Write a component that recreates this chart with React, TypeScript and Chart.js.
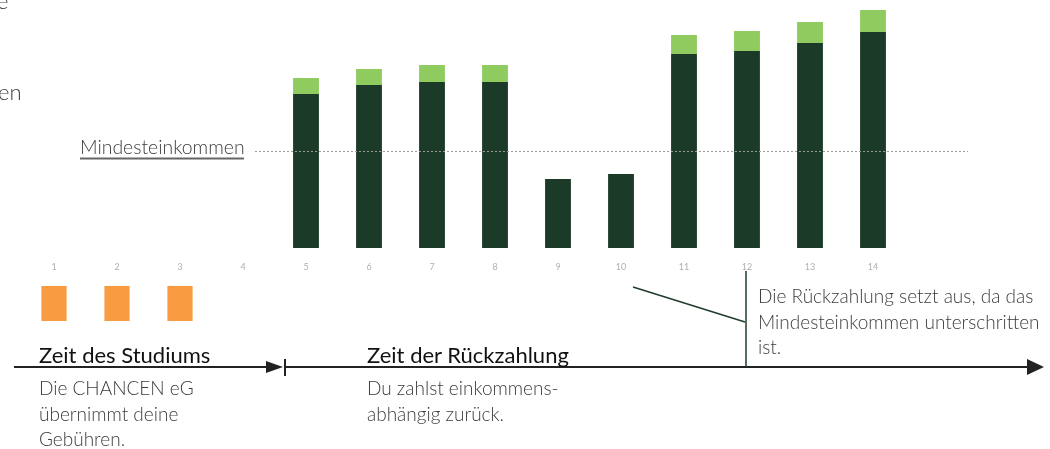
import React, { useEffect, useRef } from "react";
import { Chart, registerables } from "chart.js";

Chart.register(...registerables);

// Years (x categories)
const YEARS = ["1", "2", "3", "4", "5", "6", "7", "8", "9", "10", "11", "12", "13", "14"];
// Income remaining after repayment (dark green)
const INCOME_NET = [null, null, null, null, 154, 163, 166, 166, 69, 74, 194, 197, 205, 216];
// Income-based repayment (light green)
const REPAYMENT = [null, null, null, null, 16, 16, 17, 17, null, null, 19, 20, 21, 22];
// Fees paid by CHANCEN eG during studies (orange)
const FEES = [36, 36, 36, null, null, null, null, null, null, null, null, null, null, null];
// Minimum income threshold
const MIN_INCOME = 97;
const Y_MAX = 248;
const FEES_MAX = 36;

const DARK = "#1b3a28";
const LIGHT = "#8fcb5f";
const ORANGE = "#f89b41";
const FONT = "Lato, 'Open Sans', sans-serif";

const minLinePlugin = {
  id: "minLine",
  afterDatasetsDraw(chart: any) {
    const y = Math.round(chart.scales.y.getPixelForValue(MIN_INCOME)) + 0.5;
    const ctx = chart.ctx;
    ctx.save();
    ctx.strokeStyle = "#9a9a9a";
    ctx.lineWidth = 1;
    ctx.setLineDash([2, 2]);
    ctx.beginPath();
    ctx.moveTo(255, y);
    ctx.lineTo(968, y);
    ctx.stroke();
    ctx.restore();
  },
};

export default function App() {
  const topRef = useRef<HTMLCanvasElement | null>(null);
  const botRef = useRef<HTMLCanvasElement | null>(null);

  useEffect(() => {
    document.body.style.margin = "0";
    const top = new Chart(topRef.current as HTMLCanvasElement, {
      type: "bar",
      data: {
        labels: YEARS,
        datasets: [
          {
            label: "Einkommen",
            data: INCOME_NET as any,
            backgroundColor: DARK,
            barPercentage: 0.41,
            categoryPercentage: 1,
          },
          {
            label: "Rückzahlung",
            data: REPAYMENT as any,
            backgroundColor: LIGHT,
            barPercentage: 0.41,
            categoryPercentage: 1,
          },
        ],
      },
      options: {
        animation: false,
        responsive: false,
        maintainAspectRatio: false,
        layout: { padding: { left: 22.5, right: 145.5, top: 0, bottom: 0 } },
        plugins: { legend: { display: false }, tooltip: { enabled: false } },
        scales: {
          x: {
            stacked: true,
            grid: { display: false, drawTicks: false },
            border: { display: false },
            ticks: { color: "#b0b0b0", font: { size: 9, family: FONT }, padding: 14 },
            afterFit: (s: any) => {
              s.height = 42;
            },
          },
          y: { stacked: true, display: false, min: 0, max: Y_MAX },
        },
      },
      plugins: [minLinePlugin],
    });

    const bot = new Chart(botRef.current as HTMLCanvasElement, {
      type: "bar",
      data: {
        labels: YEARS,
        datasets: [
          {
            label: "Gebühren",
            data: FEES as any,
            backgroundColor: ORANGE,
            barPercentage: 0.4,
            categoryPercentage: 1,
          },
        ],
      },
      options: {
        animation: false,
        responsive: false,
        maintainAspectRatio: false,
        layout: { padding: { left: 22.5, right: 145.5, top: 5.7, bottom: 9 } },
        plugins: { legend: { display: false }, tooltip: { enabled: false } },
        scales: {
          x: { display: false },
          y: { display: false, min: 0, max: FEES_MAX },
        },
      },
    });
    return () => {
      top.destroy();
      bot.destroy();
    };
  }, []);

  const text = (style: React.CSSProperties, content: React.ReactNode, weight = 300, size = 19, color = "#3c3c3c") => (
    <div
      style={{
        position: "absolute",
        fontFamily: FONT,
        fontWeight: weight,
        fontSize: size,
        color,
        lineHeight: "25.5px",
        whiteSpace: "nowrap",
        ...style,
      }}
    >
      {content}
    </div>
  );

  return (
    <div style={{ position: "relative", width: 1050, height: 449, overflow: "hidden", background: "#fff" }}>
      <canvas ref={topRef} width={1050} height={290} style={{ position: "absolute", left: 0, top: 0 }} />
      <canvas ref={botRef} width={1050} height={50} style={{ position: "absolute", left: 0, top: 280 }} />
      <svg width={1050} height={449} style={{ position: "absolute", left: 0, top: 0, pointerEvents: "none" }}>
        <line x1={14} y1={367} x2={268} y2={367} stroke="#222" strokeWidth={2} />
        <polygon points="266,361 283,367 266,373" fill="#222" />
        <line x1={285} y1={359} x2={285} y2={376} stroke="#222" strokeWidth={2} />
        <line x1={285} y1={367} x2={1028} y2={367} stroke="#222" strokeWidth={2} />
        <polygon points="1027,359 1044,367 1027,375" fill="#222" />
        <line x1={633} y1={287} x2={745} y2={322} stroke="#1e3d2b" strokeWidth={1.5} />
        <line x1={746} y1={271} x2={746} y2={367} stroke="#1e3d2b" strokeWidth={1.5} />
        <line x1={80} y1={158.5} x2={244} y2={158.5} stroke="#666" strokeWidth={2} />
      </svg>
      {text({ left: -3, top: -12 }, "e", 300, 22)}
      {text({ left: -2, top: 79 }, "en", 300, 22)}
      {text({ left: 80, top: 134 }, "Mindesteinkommen", 300, 19.4)}
      {text({ left: 39, top: 342 }, "Zeit des Studiums", 400, 22, "#111")}
      {text({ left: 39, top: 375 }, <>Die CHANCEN eG<br />übernimmt deine<br />Gebühren.</>)}
      {text({ left: 367, top: 342 }, "Zeit der Rückzahlung", 400, 22, "#111")}
      {text({ left: 367, top: 375 }, <>Du zahlst einkommens-<br />abhängig zurück.</>)}
      {text({ left: 758, top: 283 }, <>Die Rückzahlung setzt aus, da das<br />Mindesteinkommen unterschritten<br />ist.</>)}
    </div>
  );
}
